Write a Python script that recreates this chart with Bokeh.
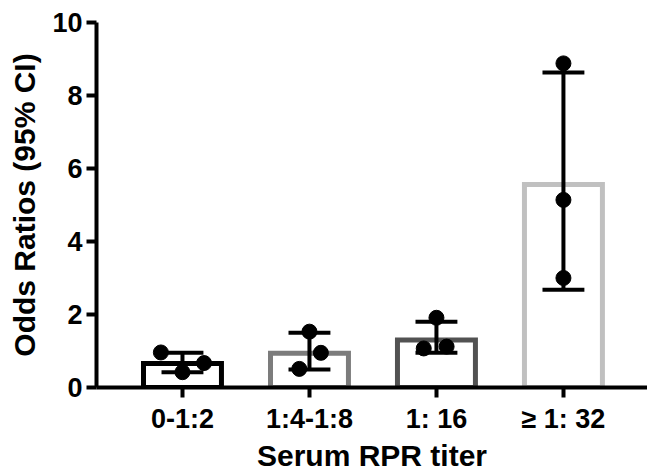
from bokeh.plotting import figure
from bokeh.models import FixedTicker, Range1d
from bokeh.embed import file_html
from bokeh.resources import INLINE

# ---- data ----
categories = ["0-1:2", "1:4-1:8", "1: 16", "\u2265 1: 32"]
bar_means = [0.66, 0.94, 1.30, 5.56]
sd_low = [0.42, 0.49, 0.95, 2.68]
sd_high = [0.95, 1.50, 1.80, 8.63]
points_g1 = [0.96, 0.42, 0.67]
points_g2 = [0.51, 1.53, 0.95]
points_g3 = [1.91, 1.07, 1.12]
points_g4 = [8.88, 5.14, 3.00]
jitter = [[-0.17, 0.0, 0.17], [-0.08, 0.0, 0.09], [0.0, -0.10, 0.08], [0.0, 0.0, 0.0]]
y_ticks = [0, 2, 4, 6, 8, 10]

bar_colors = ["#000000", "#7c7c7c", "#525252", "#c0c0c0"]
FONT = "Liberation Sans"

xs = list(range(1, len(categories) + 1))
groups = [points_g1, points_g2, points_g3, points_g4]

p = figure(width=647, height=474,
           x_range=Range1d(0.323, 4.662), y_range=Range1d(0, 10),
           output_backend="svg", toolbar_location=None,
           min_border_left=96, min_border_top=22, min_border_right=0,
           min_border_bottom=86)
p.outline_line_color = None
p.xgrid.grid_line_color = None
p.ygrid.grid_line_color = None
p.background_fill_color = "white"

# bars
p.vbar(x=xs, top=bar_means, bottom=0, width=0.614, fill_color="white",
       line_color=bar_colors, line_width=5, line_join="miter")

# error bars (mean +/- SD)
cap = 0.165
p.segment(x0=xs, y0=sd_low, x1=xs, y1=sd_high, line_color="black", line_width=4)
p.segment(x0=[x - cap for x in xs], y0=sd_low, x1=[x + cap for x in xs], y1=sd_low,
          line_color="black", line_width=4)
p.segment(x0=[x - cap for x in xs], y0=sd_high, x1=[x + cap for x in xs], y1=sd_high,
          line_color="black", line_width=4)

# individual points
px, py = [], []
for x, g, jit in zip(xs, groups, jitter):
    for v, j in zip(g, jit):
        px.append(x + j)
        py.append(v)
p.scatter(px, py, size=15, color="black")

# axes
p.xaxis.ticker = FixedTicker(ticks=xs)
p.xaxis.major_label_overrides = {x: c for x, c in zip(xs, categories)}
p.yaxis.ticker = FixedTicker(ticks=y_ticks)
p.xaxis.axis_label = "Serum RPR titer"
p.yaxis.axis_label = "Odds Ratios (95% CI)"
for ax in (p.xaxis, p.yaxis):
    ax.axis_line_width = 4
    ax.axis_line_color = "black"
    ax.major_tick_line_width = 4
    ax.major_tick_line_color = "black"
    ax.major_tick_out = 10
    ax.major_tick_in = 0
    ax.minor_tick_line_color = None
    ax.major_label_text_font = FONT
    ax.major_label_text_font_style = "bold"
    ax.major_label_text_font_size = "27px"
    ax.major_label_text_color = "black"
    ax.axis_label_text_font = FONT
    ax.axis_label_text_font_style = "bold"
    ax.axis_label_text_font_size = "30px"
    ax.axis_label_text_color = "black"
p.xaxis.major_label_standoff = 6
p.xaxis.axis_label_standoff = 2
p.yaxis.major_label_standoff = 4
p.yaxis.axis_label_standoff = 8

open("out.html", "w").write(file_html(p, INLINE))
